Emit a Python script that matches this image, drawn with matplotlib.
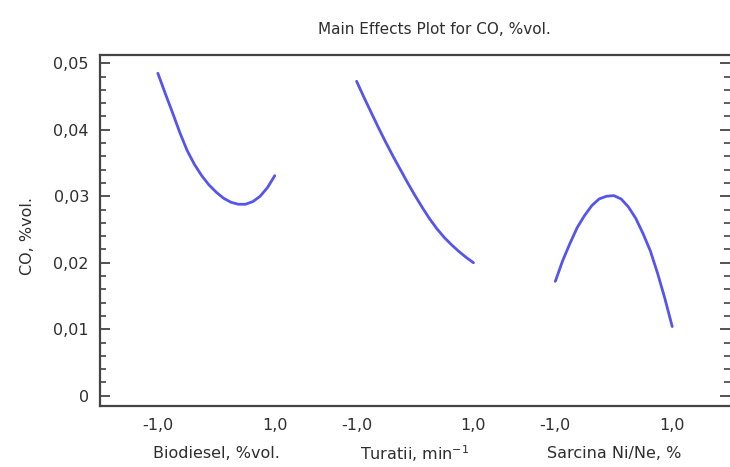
import matplotlib
matplotlib.use("Agg")
import matplotlib.pyplot as plt
from matplotlib.ticker import MultipleLocator, FixedLocator

# ---- data ----
factor_names = ["Biodiesel, %vol.", "Turatii, min$^{-1}$", "Sarcina Ni/Ne, %"]
coded_levels = [-1.0, -0.875, -0.75, -0.625, -0.5, -0.375, -0.25, -0.125, 0.0,
                0.125, 0.25, 0.375, 0.5, 0.625, 0.75, 0.875, 1.0]
co_biodiesel = [0.0485, 0.0455, 0.0426, 0.0396, 0.0369, 0.0348, 0.0331, 0.0317, 0.0306,
                0.0297, 0.0291, 0.0288, 0.0288, 0.0292, 0.0300, 0.0313, 0.0331]
co_turatii   = [0.0473, 0.0449, 0.0426, 0.0403, 0.0381, 0.0360, 0.0340, 0.0320, 0.0301,
                0.0283, 0.0266, 0.0251, 0.0238, 0.0227, 0.0217, 0.0208, 0.0200]
co_sarcina   = [0.0172, 0.0203, 0.0229, 0.0253, 0.0271, 0.0286, 0.0296, 0.0300, 0.0301,
                0.0296, 0.0284, 0.0267, 0.0244, 0.0218, 0.0184, 0.0146, 0.0104]
y_ticks = [0.0, 0.01, 0.02, 0.03, 0.04, 0.05]
y_tick_labels = ["0", "0,01", "0,02", "0,03", "0,04", "0,05"]
x_tick_labels = ["-1,0", "1,0"]
title = "Main Effects Plot for CO, %vol."
ylabel = "CO, %vol."

series = [co_biodiesel, co_turatii, co_sarcina]
group_gap = 3.4

plt.rcParams['font.family'] = ['DejaVu Sans']
text_color = "#2e2e2e"
spine_color = "#444444"
line_color = "#5555EE"

fig = plt.figure(figsize=(7.30, 4.67), dpi=100)
ax = fig.add_axes([100/730, 1-406/467, 629.5/730, (406-55)/467])

xt_pos = []
xt_lab = []
for i, (name, vals) in enumerate(zip(factor_names, series)):
    off = i * group_gap
    xs = [x + off for x in coded_levels]
    ax.plot(xs, vals, color=line_color, lw=2.0, solid_capstyle='round',
            solid_joinstyle='round')
    xt_pos += [coded_levels[0] + off, coded_levels[-1] + off]
    xt_lab += x_tick_labels
    ax.text(off, -0.0087, name, ha='center', va='center', fontsize=11.5,
            color=text_color, transform=ax.transData)

ax.set_xlim(-1.99, 8.78)
ax.set_ylim(-0.00155, 0.05125)

ax.xaxis.set_major_locator(FixedLocator(xt_pos))
ax.set_xticklabels(xt_lab)
ax.tick_params(axis='x', length=0, pad=9, labelsize=11.5, labelcolor=text_color)

ax.set_yticks(y_ticks)
ax.set_yticklabels(y_tick_labels)
ax.yaxis.set_minor_locator(MultipleLocator(0.002))
ax.tick_params(axis='y', which='major', direction='in', left=True, right=True,
               length=7.5, width=1.3, color=spine_color, labelsize=11.5,
               labelcolor=text_color, pad=8)
ax.tick_params(axis='y', which='minor', direction='in', left=True, right=True,
               length=4, width=1.2, color=spine_color)

for s in ['top', 'left', 'bottom']:
    ax.spines[s].set_color(spine_color)
    ax.spines[s].set_linewidth(1.6)
ax.spines['right'].set_visible(False)

fig.text(434/730, 1-29/467, title, ha='center', va='center', fontsize=11,
         color=text_color)
fig.text(27/730, 1-236/467, ylabel, ha='center', va='center', rotation=90,
         fontsize=11.5, color=text_color)

fig.savefig("out.png", dpi=100)
